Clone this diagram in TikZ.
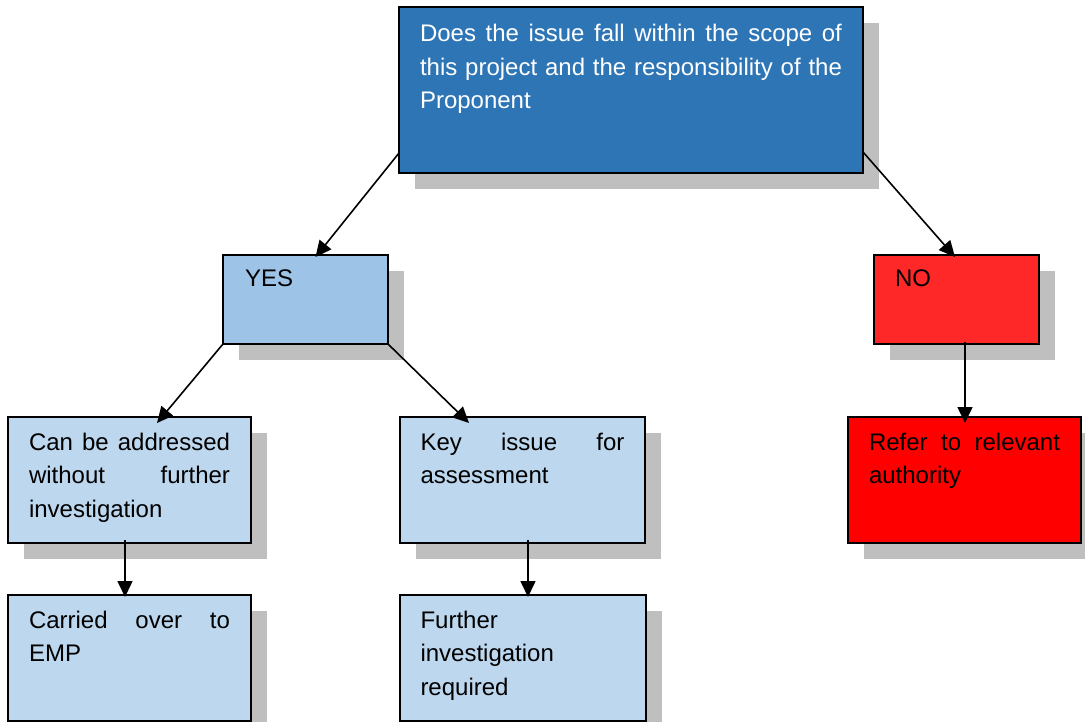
\documentclass[tikz,border=0pt]{standalone}
\usepackage{fontspec}
\setmainfont{Liberation Sans}
\usetikzlibrary{arrows.meta,calc,shadows}
\definecolor{topblue}{RGB}{46,117,182}
\definecolor{yesblue}{RGB}{157,195,230}
\definecolor{lightblue}{RGB}{189,215,238}
\definecolor{nored}{RGB}{255,40,40}
\definecolor{refred}{RGB}{255,0,0}
\definecolor{shadowgray}{RGB}{191,191,191}
\tolerance=10000
\hyphenpenalty=10000
\exhyphenpenalty=10000
\begin{document}
\begin{tikzpicture}[x=1pt,y=-1pt,
  box/.style={draw=black, line width=2pt, anchor=north west, inner sep=0pt, outer sep=0pt,
    drop shadow={shadow xshift=16pt, shadow yshift=-16pt, fill=shadowgray, opacity=1}},
  boxtext/.style={anchor=base west, inner sep=0pt, outer sep=0pt, align=justify,
    font=\fontsize{24}{33.5}\selectfont},
  conn/.style={line width=1.6pt, -{Triangle[length=16pt,width=15pt]}}]
\useasboundingbox (0,0) rectangle (1085,722);
\clip (0,0) rectangle (1085,722);

% boxes
\node[box, fill=topblue, minimum width=464pt, minimum height=166pt] (top) at (399,7) {};
\node[box, fill=yesblue, minimum width=165pt, minimum height=89pt] (yes) at (223,255) {};
\node[box, fill=nored, minimum width=165pt, minimum height=89pt] (no) at (874,255) {};
\node[box, fill=lightblue, minimum width=243pt, minimum height=126pt] (can) at (8,417) {};
\node[box, fill=lightblue, minimum width=245pt, minimum height=126pt] (key) at (400,417) {};
\node[box, fill=refred, minimum width=233pt, minimum height=126pt] (refer) at (848,417) {};
\node[box, fill=lightblue, minimum width=243pt, minimum height=126pt] (carried) at (8,595) {};
\node[box, fill=lightblue, minimum width=246pt, minimum height=126pt] (further) at (400,595) {};

% texts
\node[boxtext, text width=422pt, text=white] (topT) at ($(top.north west)+(21pt,-35pt)$)
  {Does the issue fall within the scope of this project and the responsibility of the Proponent};
\node[boxtext, text width=121pt] (yesT) at ($(yes.north west)+(22pt,-32pt)$) {YES};
\node[boxtext, text width=121pt] (noT) at ($(no.north west)+(21pt,-32pt)$) {NO};
\node[boxtext, text width=201pt] (canT) at ($(can.north west)+(21pt,-33pt)$)
  {Can be addressed without further investigation};
\node[boxtext, text width=204pt] (keyT) at ($(key.north west)+(20.5pt,-33pt)$)
  {Key issue for assessment};
\node[boxtext, text width=191pt] (referT) at ($(refer.north west)+(21pt,-33pt)$)
  {Refer to relevant authority};
\node[boxtext, text width=201pt] (carriedT) at ($(carried.north west)+(21pt,-33pt)$)
  {Carried over to EMP};
\node[boxtext, text width=204pt] (furtherT) at ($(further.north west)+(20.5pt,-33pt)$)
  {Further investigation required};

% connectors
\draw[conn] ($(top.south west)+(0pt,20pt)$) -- ($(yes.north)+(10pt,-2pt)$);
\draw[conn] ($(top.south east)+(0pt,21pt)$) -- ($(no.north)+(-1.5pt,-2pt)$);
\draw[conn] (yes.south west) -- ($(can.north)+(27.5pt,-6pt)$);
\draw[conn] (yes.south east) -- ($(key.north)+(-53.5pt,-6pt)$);
\draw[conn] ($(no.south)+(8.5pt,2pt)$) -- ($(refer.north)+(0.5pt,-6pt)$);
\draw[conn] ($(can.south)+(-4.5pt,3pt)$) -- ($(carried.north)+(-4.5pt,-2pt)$);
\draw[conn] ($(key.south)+(5.5pt,3pt)$) -- ($(further.north)+(5pt,-2pt)$);
\end{tikzpicture}
\end{document}
